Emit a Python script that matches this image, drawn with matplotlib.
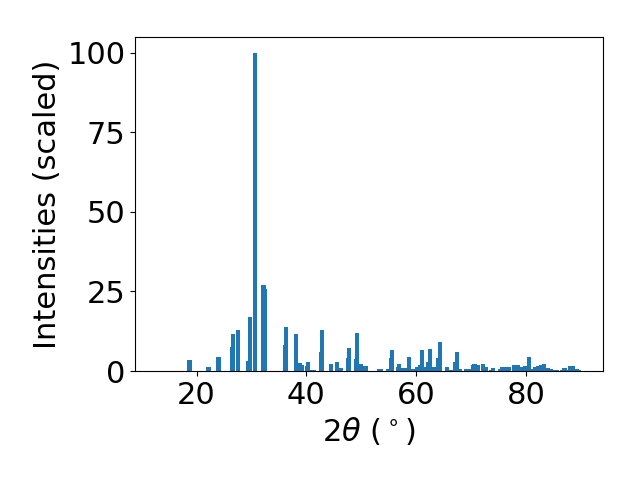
import matplotlib
matplotlib.use("Agg")
import matplotlib.pyplot as plt

# peak positions (2theta, degrees) and scaled intensities
two_theta = [
    18.7, 22.2, 24.0, 26.45, 26.65, 27.55, 29.4, 29.75, 30.65, 32.2, 32.4,
    36.1, 36.3, 38.1, 38.85, 39.2, 40.1, 40.3, 41.0, 41.4, 42.7, 42.85,
    44.5, 45.6, 46.3, 47.6, 47.8, 49.0, 49.2, 49.95, 50.6, 50.9,
    53.2, 53.6, 54.9, 55.4, 55.6, 56.7, 56.9, 57.7, 58.1, 58.7, 59.4,
    60.2, 60.7, 61.1, 61.9, 62.2, 62.5, 63.2, 64.0, 64.35,
    65.6, 66.3, 67.1, 67.45, 68.0, 69.1, 69.6, 70.4, 70.6, 71.3,
    72.2, 72.7, 73.6, 74.0, 75.3, 75.6, 76.3, 76.8, 77.8, 78.5, 79.1, 79.5,
    79.9, 80.2, 80.6, 81.0, 81.6, 82.2, 82.8, 83.1, 83.3, 84.0, 84.5,
    85.0, 85.6, 86.6, 87.0, 87.6, 88.0, 88.5, 89.0, 89.3, 89.7,
]
intensity = [
    3.4, 1.25, 4.4, 7.5, 11.6, 12.8, 3.1, 16.9, 100.0, 27.0, 25.7,
    8.1, 13.8, 11.6, 2.5, 1.9, 1.6, 2.8, 0.3, 0.3, 5.9, 12.8,
    2.2, 2.8, 0.9, 4.1, 7.2, 3.8, 11.9, 2.2, 1.6, 1.6,
    0.6, 0.6, 0.6, 4.1, 6.6, 1.3, 2.2, 0.9, 0.9, 4.4, 0.6,
    1.3, 1.9, 6.6, 1.3, 2.8, 6.9, 1.3, 4.1, 9.1,
    1.3, 0.3, 2.8, 5.9, 0.6, 0.6, 0.6, 1.9, 2.2, 1.9,
    2.2, 1.3, 0.3, 0.9, 0.6, 1.3, 1.3, 1.3, 1.9, 1.9, 1.3, 0.6,
    1.6, 0.6, 4.4, 0.6, 1.3, 1.6, 1.9, 0.6, 2.2, 0.9, 0.6,
    0.3, 0.3, 0.3, 0.9, 0.3, 1.6, 1.6, 0.3, 0.6, 0.3,
]

fig, ax = plt.subplots(figsize=(6.4, 4.8), dpi=100)
fig.subplots_adjust(left=0.211, right=0.942, top=0.923, bottom=0.227)
ax.bar(two_theta, intensity, width=0.8, color="#1f77b4")
ax.set_xlim(8.8, 94.0)
ax.set_xlabel(r"2$\theta$ ($^\circ$)", fontsize=22)
ax.set_ylabel("Intensities (scaled)", fontsize=22)
ax.tick_params(labelsize=22)
ax.set_xticks([20, 40, 60, 80])
ax.set_yticks([0, 25, 50, 75, 100])
plt.savefig("out.png", dpi=100)
